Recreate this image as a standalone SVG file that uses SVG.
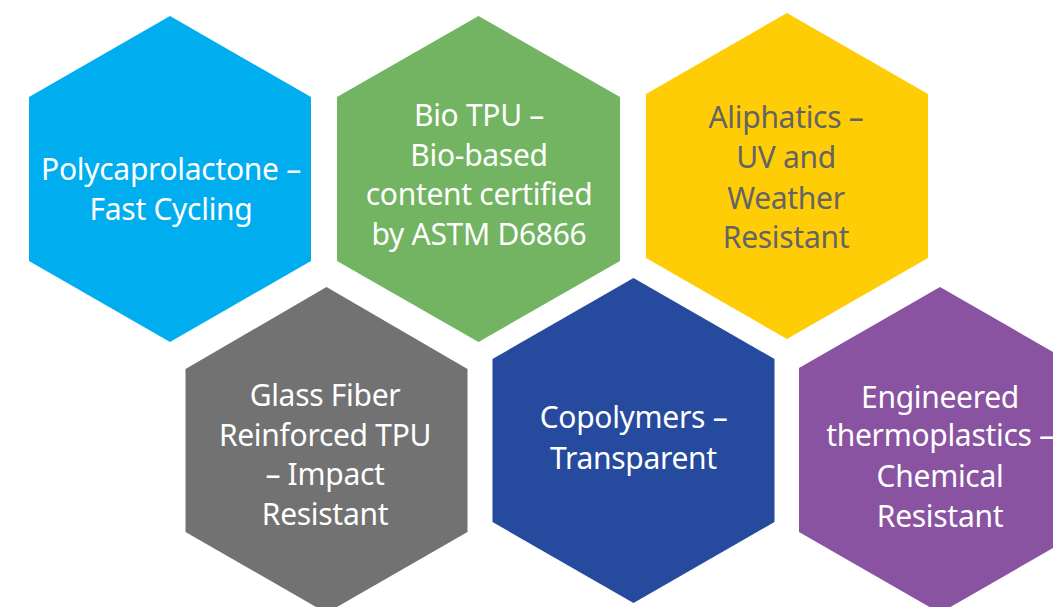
<svg xmlns="http://www.w3.org/2000/svg" width="1053" height="607" viewBox="0 0 1053 607">
<style>
text{font-family:"Noto Sans","Open Sans","DejaVu Sans",sans-serif;font-size:30px;text-anchor:middle;fill:#ffffff;letter-spacing:-0.3px}
.dark{fill:#636467}
</style>
<rect width="1053" height="607" fill="#ffffff"/>
<g id="node-polycaprolactone">
<polygon points="170,16 311,97 311,261 170,342 29,261 29,97" fill="#00aeef"/>
<text x="171" y="180">Polycaprolactone –</text>
<text x="171" y="220">Fast Cycling</text>
</g>
<g id="node-bio-tpu">
<polygon points="478.5,16 620,97 620,261 478.5,342 337,261 337,97" fill="#72b462"/>
<text x="479" y="126">Bio TPU –</text>
<text x="479" y="166">Bio-based</text>
<text x="479" y="205">content certified</text>
<text x="479" y="245">by ASTM D6866</text>
</g>
<g id="node-aliphatics">
<polygon points="787,13 928,94 928,258 787,339 646,258 646,94" fill="#ffcd05"/>
<text class="dark" x="786" y="128">Aliphatics –</text>
<text class="dark" x="786" y="168">UV and</text>
<text class="dark" x="786" y="209">Weather</text>
<text class="dark" x="786" y="248">Resistant</text>
</g>
<g id="node-glass-fiber">
<polygon points="326.5,287 467.5,369 467.5,532 326.5,613 185.5,532 185.5,369" fill="#717271"/>
<text x="325" y="406">Glass Fiber</text>
<text x="325" y="446">Reinforced TPU</text>
<text x="325" y="485">– Impact</text>
<text x="325" y="525">Resistant</text>
</g>
<g id="node-copolymers">
<polygon points="633.5,278 774.5,359 774.5,522 633.5,603 492.5,522 492.5,359" fill="#264a9e"/>
<text x="633.5" y="428">Copolymers –</text>
<text x="633.5" y="469">Transparent</text>
</g>
<g id="node-engineered">
<polygon points="940,287 1081,368 1081,532 940,613 799,532 799,368" fill="#8953a1"/>
<text x="940" y="408">Engineered</text>
<text x="940" y="446">thermoplastics –</text>
<text x="940" y="487">Chemical</text>
<text x="940" y="527">Resistant</text>
</g>
<g id="connectors"/>
</svg>
